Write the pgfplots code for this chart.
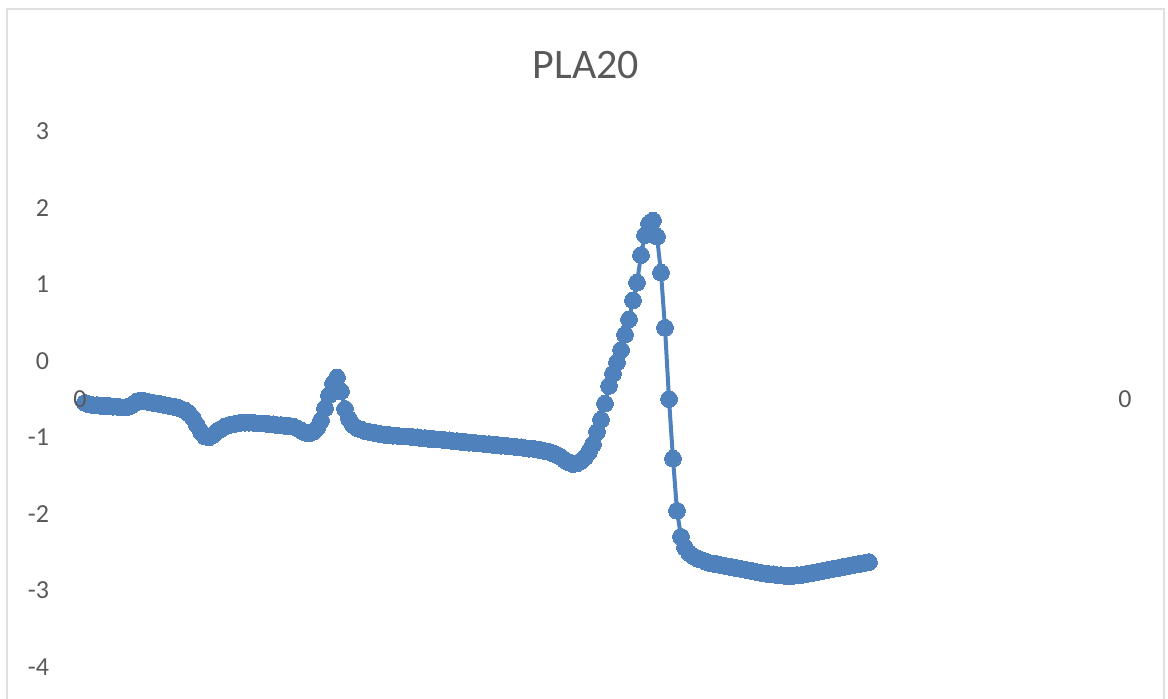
\documentclass[border=0pt]{standalone}
\usepackage{pgfplots}
\pgfplotsset{compat=1.18}
\usepackage{pgfplotstable}
\usepackage{fontspec}
\setmainfont{Carlito}
\definecolor{xlblue}{RGB}{79,129,189}
\definecolor{xltext}{RGB}{89,89,89}
\definecolor{xlframe}{RGB}{224,224,224}

\pgfplotstableread{
i y
0 -0.55
1 -0.57
2 -0.58
3 -0.58
4 -0.59
5 -0.59
6 -0.59
7 -0.60
8 -0.60
9 -0.61
10 -0.61
11 -0.60
12 -0.57
13 -0.53
14 -0.52
15 -0.53
16 -0.54
17 -0.55
18 -0.56
19 -0.57
20 -0.58
21 -0.59
22 -0.60
23 -0.61
24 -0.63
25 -0.65
26 -0.69
27 -0.75
28 -0.84
29 -0.93
30 -0.99
31 -1.00
32 -0.97
33 -0.92
34 -0.89
35 -0.86
36 -0.84
37 -0.83
38 -0.82
39 -0.81
40 -0.81
41 -0.81
42 -0.81
43 -0.82
44 -0.82
45 -0.82
46 -0.83
47 -0.83
48 -0.84
49 -0.84
50 -0.85
51 -0.85
52 -0.86
53 -0.88
54 -0.91
55 -0.94
56 -0.95
57 -0.93
58 -0.88
59 -0.78
60 -0.62
61 -0.45
62 -0.30
63 -0.22
64 -0.40
65 -0.63
66 -0.76
67 -0.84
68 -0.88
69 -0.90
70 -0.92
71 -0.93
72 -0.94
73 -0.95
74 -0.96
75 -0.97
76 -0.97
77 -0.98
78 -0.98
79 -0.99
80 -0.99
81 -0.99
82 -1.00
83 -1.00
84 -1.01
85 -1.01
86 -1.02
87 -1.02
88 -1.03
89 -1.03
90 -1.04
91 -1.04
92 -1.05
93 -1.05
94 -1.06
95 -1.06
96 -1.07
97 -1.07
98 -1.08
99 -1.08
100 -1.09
101 -1.09
102 -1.10
103 -1.10
104 -1.11
105 -1.11
106 -1.12
107 -1.12
108 -1.13
109 -1.13
110 -1.14
111 -1.15
112 -1.15
113 -1.16
114 -1.17
115 -1.18
116 -1.19
117 -1.21
118 -1.23
119 -1.26
120 -1.30
121 -1.33
122 -1.35
123 -1.34
124 -1.31
125 -1.26
126 -1.19
127 -1.09
128 -0.93
129 -0.77
130 -0.56
131 -0.33
132 -0.17
133 -0.02
134 0.14
135 0.34
136 0.54
137 0.79
138 1.02
139 1.38
140 1.64
141 1.79
142 1.83
143 1.62
144 1.15
145 0.43
146 -0.50
147 -1.28
148 -1.96
149 -2.30
150 -2.44
151 -2.51
152 -2.55
153 -2.58
154 -2.60
155 -2.62
156 -2.64
157 -2.65
158 -2.66
159 -2.67
160 -2.68
161 -2.69
162 -2.70
163 -2.71
164 -2.72
165 -2.73
166 -2.74
167 -2.75
168 -2.76
169 -2.77
170 -2.78
171 -2.79
172 -2.79
173 -2.80
174 -2.80
175 -2.81
176 -2.81
177 -2.81
178 -2.80
179 -2.80
180 -2.79
181 -2.78
182 -2.77
183 -2.76
184 -2.75
185 -2.74
186 -2.73
187 -2.72
188 -2.71
189 -2.70
190 -2.69
191 -2.68
192 -2.67
193 -2.66
194 -2.65
195 -2.64
196 -2.63
}\pladata

\begin{document}
\begin{tikzpicture}
  \useasboundingbox (0,0) rectangle (584pt,-349.5pt);
  \draw[xlframe, line width=1.2pt] (3.5pt,-4.5pt) rectangle (582pt,-400pt);
  \node[text=xltext, font=\fontsize{21}{24}\selectfont] at (293pt,-32.5pt) {PLA20};
  \begin{axis}[
      at={(40pt,-333.5pt)},
      anchor=south west,
      scale only axis,
      width=522.5pt,
      height=268pt,
      xmin=-1.25, xmax=260,
      ymin=-4, ymax=3,
      axis x line=none,
      axis y line=left,
      y axis line style={draw=none},
      major tick length=0pt,
      ytick={-4,-3,...,3},
      /pgf/number format/assume math mode=true,
      y tick label style={text=xltext, font=\fontsize{13}{15}\selectfont, xshift=-12pt},
      clip=false
    ]
    \addplot[xlblue, line width=2pt, mark=*, mark size=4.2pt,
             mark options={fill=xlblue, draw=xlblue, line width=0pt}]
      table[x=i, y=y] {\pladata};
    \coordinate (lz) at (axis cs:-1.25,-0.5);
    \coordinate (rz) at (axis cs:260,-0.5);
  \end{axis}
  % category labels of the x axis, set on top of the series as in the reference
  \node[text=xltext, font=\fontsize{13}{15}\selectfont] at (lz) {0};
  \node[text=xltext, font=\fontsize{13}{15}\selectfont] at (rz) {0};
\end{tikzpicture}
\end{document}
